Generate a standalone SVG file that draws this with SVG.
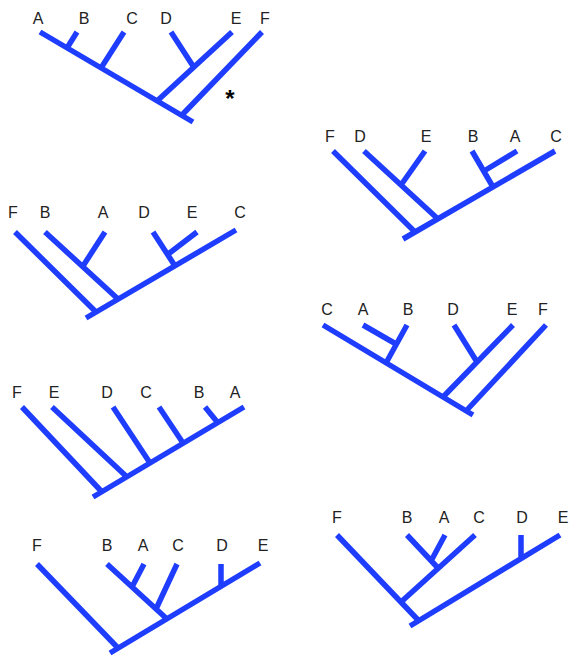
<svg xmlns="http://www.w3.org/2000/svg" width="571" height="656" viewBox="0 0 571 656">
<style>
.e{stroke:#1f3dff;stroke-width:5.5;fill:none;stroke-linecap:butt}
.t{font-family:"Liberation Sans",Arial,sans-serif;font-size:16px;fill:#222;text-anchor:middle}
.s{font-family:"Liberation Sans",Arial,sans-serif;font-size:24px;font-weight:bold;fill:#000;text-anchor:middle}
</style>
<rect width="571" height="656" fill="#fff"/>
<g id="tree1">
<g class="t"><text x="38" y="24">A</text><text x="84" y="24">B</text><text x="132" y="24">C</text><text x="166" y="24">D</text><text x="236" y="24">E</text><text x="265" y="24">F</text></g>
<g class="e"><path d="M40,32L193,122M262,32L182,115M77,32L67,48M124,32L101,68M232,32L157,101M171,32L193,66"/></g>
<text class="s" x="230" y="107">*</text>
</g>
<g id="tree2">
<g class="t"><text x="330" y="142">F</text><text x="360" y="142">D</text><text x="426" y="142">E</text><text x="473" y="142">B</text><text x="515" y="142">A</text><text x="556" y="142">C</text></g>
<g class="e"><path d="M555,151L403,239M333,151L415,232M364,151L438,219M425,151L401,185M472,151L493,187M517,151L484,171"/></g>
</g>
<g id="tree3">
<g class="t"><text x="13" y="218">F</text><text x="45" y="218">B</text><text x="103" y="218">A</text><text x="144" y="218">D</text><text x="192" y="218">E</text><text x="240" y="218">C</text></g>
<g class="e"><path d="M236,230L86,318M15,232L96,312M45,232L118,299M105,232L83,266M153,232L175,266M197,232L167,255"/></g>
</g>
<g id="tree4">
<g class="t"><text x="327" y="315">C</text><text x="363" y="315">A</text><text x="408" y="315">B</text><text x="453" y="315">D</text><text x="512" y="315">E</text><text x="543" y="315">F</text></g>
<g class="e"><path d="M323,325L473,415M546,325L466,411M513,325L443,397M454,325L477,362M407,325L386,363M363,325L396,344"/></g>
</g>
<g id="tree5">
<g class="t"><text x="17" y="398">F</text><text x="54" y="398">E</text><text x="107" y="398">D</text><text x="146" y="398">C</text><text x="199" y="398">B</text><text x="235" y="398">A</text></g>
<g class="e"><path d="M244,407L93,497M22,407L102,492M52,407L127,477M113,407L150,463M159,407L183,443M205,407L218,423"/></g>
</g>
<g id="tree6">
<g class="t"><text x="37" y="551">F</text><text x="107" y="551">B</text><text x="143" y="551">A</text><text x="178" y="551">C</text><text x="222" y="551">D</text><text x="263" y="551">E</text></g>
<g class="e"><path d="M260,563L110,653M37,564L118,648M107,564L167,619M144,564L132,587M177,564L156,609M221,564L221,587"/></g>
</g>
<g id="tree7">
<g class="t"><text x="337" y="523">F</text><text x="407" y="523">B</text><text x="444" y="523">A</text><text x="479" y="523">C</text><text x="522" y="523">D</text><text x="563" y="523">E</text></g>
<g class="e"><path d="M560,535L410,626M337,535L419,621M475,535L401,602M407,535L438,568M445,535L431,561M521,535L521,559"/></g>
</g>
</svg>
